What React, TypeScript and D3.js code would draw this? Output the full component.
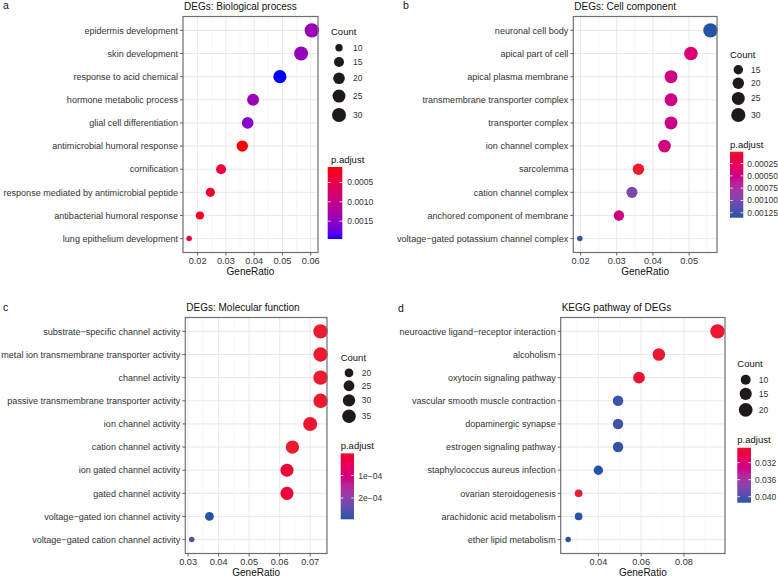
import React from "react";
import * as d3 from "d3";

// ---------------- DATA ----------------
const bpTerms = [
  "epidermis development",
  "skin development",
  "response to acid chemical",
  "hormone metabolic process",
  "glial cell differentiation",
  "antimicrobial humoral response",
  "cornification",
  "response mediated by antimicrobial peptide",
  "antibacterial humoral response",
  "lung epithelium development",
];
const bpRatio = [0.0604, 0.0566, 0.0491, 0.0396, 0.0377, 0.0358, 0.0283, 0.0245, 0.0208, 0.017];
const bpCount = [32, 30, 26, 21, 20, 19, 15, 13, 11, 9];
const bpPadj = [0.00142, 0.00145, 0.00196, 0.0014, 0.00155, 0.0001, 0.00042, 0.0003, 0.00022, 0.00045];
const bpXTicks = [0.02, 0.03, 0.04, 0.05, 0.06];
const bpCountBreaks = [10, 15, 20, 25, 30];
const bpPadjBreaks = [0.0005, 0.001, 0.0015];
const bpPadjLabels = ["0.0005", "0.0010", "0.0015"];

const ccTerms = [
  "neuronal cell body",
  "apical part of cell",
  "apical plasma membrane",
  "transmembrane transporter complex",
  "transporter complex",
  "ion channel complex",
  "sarcolemma",
  "cation channel complex",
  "anchored component of membrane",
  "voltage\u2212gated potassium channel complex",
];
const ccRatio = [0.0559, 0.0505, 0.045, 0.045, 0.045, 0.0432, 0.036, 0.0342, 0.0306, 0.0198];
const ccCount = [31, 28, 25, 25, 25, 24, 20, 19, 17, 11];
const ccPadj = [0.00135, 0.0004, 0.00052, 0.00052, 0.00052, 0.00047, 0.00001, 0.00098, 0.00048, 0.0013];
const ccXTicks = [0.02, 0.03, 0.04, 0.05];
const ccCountBreaks = [15, 20, 25, 30];
const ccPadjBreaks = [0.00025, 0.0005, 0.00075, 0.001, 0.00125];
const ccPadjLabels = ["0.00025", "0.00050", "0.00075", "0.00100", "0.00125"];

const mfTerms = [
  "substrate\u2212specific channel activity",
  "metal ion transmembrane transporter activity",
  "channel activity",
  "passive transmembrane transporter activity",
  "ion channel activity",
  "cation channel activity",
  "ion gated channel activity",
  "gated channel activity",
  "voltage\u2212gated ion channel activity",
  "voltage\u2212gated cation channel activity",
];
const mfRatio = [0.0734, 0.0734, 0.0734, 0.0734, 0.07, 0.0642, 0.0624, 0.0624, 0.037, 0.0312];
const mfCount = [39, 39, 39, 39, 37, 34, 33, 33, 20, 17];
const mfPadj = [2e-6, 3e-6, 2e-6, 3e-6, 5e-6, 1e-6, 1.5e-5, 1.5e-5, 2.95e-4, 2.62e-4];
const mfXTicks = [0.03, 0.04, 0.05, 0.06, 0.07];
const mfCountBreaks = [20, 25, 30, 35];
const mfPadjBreaks = [1e-4, 2e-4];
const mfPadjLabels = ["1e\u221204", "2e\u221204"];

const keggTerms = [
  "neuroactive ligand\u2212receptor interaction",
  "alcoholism",
  "oxytocin signaling pathway",
  "vascular smooth muscle contraction",
  "dopaminergic synapse",
  "estrogen signaling pathway",
  "staphylococcus aureus infection",
  "ovarian steroidogenesis",
  "arachidonic acid metabolism",
  "ether lipid metabolism",
];
const keggRatio = [0.0957, 0.0683, 0.059, 0.0492, 0.0492, 0.0492, 0.04, 0.0308, 0.0308, 0.0259];
const keggCount = [22, 16, 14, 11, 11, 11, 9, 7, 7, 6];
const keggPadj = [0.0287, 0.0286, 0.0288, 0.0405, 0.0404, 0.041, 0.0414, 0.0285, 0.0413, 0.0414];
const keggXTicks = [0.04, 0.06, 0.08];
const keggCountBreaks = [10, 15, 20];
const keggPadjBreaks = [0.032, 0.036, 0.04];
const keggPadjLabels = ["0.032", "0.036", "0.040"];

// ---------------- STYLE / LAYOUT ----------------
const W = 778;
const H = 577;
const FONT = "'Liberation Sans', Arial, Helvetica, sans-serif";
const D_MIN = 5.5;
const D_MAX = 14.4;

const panels = [
  {
    id: "a", letter: "a", title: "DEGs: Biological process",
    terms: bpTerms, ratio: bpRatio, count: bpCount, padj: bpPadj, xTicks: bpXTicks,
    countBreaks: bpCountBreaks, padjBreaks: bpPadjBreaks, padjLabels: bpPadjLabels,
    low: "#FF0000", high: "#0000FF", mode: "lab",
    x0: 183, x1: 318, y0: 16.5, y1: 252.5, letterX: 3, letterY: 9,
    cTitleX: 331, cTitleY: 35.3, cDotX: 339, cLabX: 353, keyPad: 5.5,
    pTitleX: 331, pTitleY: 162.5, barX: 327.7, barY: 167, barW: 14.6, barH: 72, barLabX: 347.3,
  },
  {
    id: "b", letter: "b", title: "DEGs: Cell component",
    terms: ccTerms, ratio: ccRatio, count: ccCount, padj: ccPadj, xTicks: ccXTicks,
    countBreaks: ccCountBreaks, padjBreaks: ccPadjBreaks, padjLabels: ccPadjLabels,
    low: "#EC1C2C", high: "#2454A6", mode: "hcl",
    x0: 573.3, x1: 717, y0: 16.5, y1: 252.5, letterX: 403, letterY: 9,
    cTitleX: 730, cTitleY: 57.5, cDotX: 738.3, cLabX: 751, keyPad: 3,
    pTitleX: 730, pTitleY: 147.5, barX: 730, barY: 151.7, barW: 13.3, barH: 66, barLabX: 747.3,
  },
  {
    id: "c", letter: "c", title: "DEGs: Molecular function",
    terms: mfTerms, ratio: mfRatio, count: mfCount, padj: mfPadj, xTicks: mfXTicks,
    countBreaks: mfCountBreaks, padjBreaks: mfPadjBreaks, padjLabels: mfPadjLabels,
    low: "#EC1C2C", high: "#2454A6", mode: "hcl",
    x0: 185.3, x1: 327, y0: 317.5, y1: 553.5, letterX: 3, letterY: 311,
    cTitleX: 340.7, cTitleY: 361, cDotX: 349, cLabX: 361.7, keyPad: 3,
    pTitleX: 340.7, pTitleY: 449, barX: 340.7, barY: 453.3, barW: 13.3, barH: 66, barLabX: 358.3,
  },
  {
    id: "d", letter: "d", title: "KEGG pathway of DEGs",
    terms: keggTerms, ratio: keggRatio, count: keggCount, padj: keggPadj, xTicks: keggXTicks,
    countBreaks: keggCountBreaks, padjBreaks: keggPadjBreaks, padjLabels: keggPadjLabels,
    low: "#EC1C2C", high: "#2454A6", mode: "hcl",
    x0: 560.7, x1: 725, y0: 317.5, y1: 553.5, letterX: 398, letterY: 312,
    cTitleX: 737.3, cTitleY: 367.3, cDotX: 745.7, cLabX: 758.7, keyPad: 3,
    pTitleX: 737.3, pTitleY: 442.5, barX: 737.3, barY: 447.7, barW: 13.7, barH: 55, barLabX: 755,
  },
];

function Panel({ p }: { p: any }) {
  const rMin = d3.min(p.ratio as number[])!;
  const rMax = d3.max(p.ratio as number[])!;
  const span = rMax - rMin;
  const x = d3.scaleLinear().domain([rMin - 0.05 * span, rMax + 0.05 * span]).range([p.x0, p.x1]);
  const y = d3.scalePoint<string>().domain(p.terms).range([p.y0, p.y1]).padding(0.6);

  const cMin = d3.min(p.count as number[])!;
  const cMax = d3.max(p.count as number[])!;
  const diam = (c: number) => D_MIN + (D_MAX - D_MIN) * Math.sqrt(Math.max(0, (c - cMin) / (cMax - cMin)));

  const pMin = d3.min(p.padj as number[])!;
  const pMax = d3.max(p.padj as number[])!;
  const interp = p.mode === "hcl" ? d3.interpolateHcl(p.low, p.high) : d3.interpolateLab(p.low, p.high);
  const tScale = d3.scaleLinear().domain([pMin, pMax]).range([0, 1]).clamp(true);
  const color = (v: number) => interp(tScale(v));

  const step = p.xTicks[1] - p.xTicks[0];
  const [dLo, dHi] = x.domain();
  const minor: number[] = [];
  for (let v = p.xTicks[0] - step / 2; v <= dHi + 1e-12; v += step) {
    if (v >= dLo) minor.push(v);
  }

  let keyTop = p.cTitleY + 6;
  const keys = (p.countBreaks as number[]).map((b) => {
    const d = diam(b);
    const h = d + p.keyPad;
    const cy = keyTop + h / 2;
    keyTop += h;
    return { b, d, cy };
  });

  const barScale = d3.scaleLinear().domain([pMin, pMax]).range([p.barY, p.barY + p.barH]);
  const gradId = "grad-" + p.id;
  const stops = d3.range(0, 31).map((i) => i / 30);

  return (
    <g>
      <text x={p.letterX} y={p.letterY} fontSize={10.5} fill="#111">{p.letter}</text>
      <text x={p.x0 + 1} y={p.y0 - 6.5} fontSize={10} fill="#111">{p.title}</text>

      <rect x={p.x0} y={p.y0} width={p.x1 - p.x0} height={p.y1 - p.y0} fill="#fff" />
      {minor.map((v, i) => (
        <line key={"mn" + i} x1={x(v)} x2={x(v)} y1={p.y0} y2={p.y1} stroke="#F2F2F2" strokeWidth={0.6} />
      ))}
      {(p.xTicks as number[]).map((v, i) => (
        <line key={"mj" + i} x1={x(v)} x2={x(v)} y1={p.y0} y2={p.y1} stroke="#E6E6E6" strokeWidth={0.9} />
      ))}
      {(p.terms as string[]).map((t, i) => (
        <line key={"hy" + i} x1={p.x0} x2={p.x1} y1={y(t)} y2={y(t)} stroke="#E6E6E6" strokeWidth={0.9} />
      ))}

      {(p.terms as string[]).map((t, i) => (
        <circle key={"pt" + i} cx={x(p.ratio[i])} cy={y(t)} r={diam(p.count[i]) / 2} fill={color(p.padj[i])} />
      ))}

      <rect x={p.x0} y={p.y0} width={p.x1 - p.x0} height={p.y1 - p.y0} fill="none" stroke="#707070" strokeWidth={1.2} />

      {(p.terms as string[]).map((t, i) => (
        <g key={"yl" + i}>
          <line x1={p.x0 - 3} x2={p.x0} y1={y(t)} y2={y(t)} stroke="#555" strokeWidth={0.9} />
          <text x={p.x0 - 5} y={y(t)! + 3.2} textAnchor="end" fontSize={9.05} fill="#333">{t}</text>
        </g>
      ))}
      {(p.xTicks as number[]).map((v, i) => (
        <g key={"xl" + i}>
          <line x1={x(v)} x2={x(v)} y1={p.y1} y2={p.y1 + 3} stroke="#555" strokeWidth={0.9} />
          <text x={x(v)} y={p.y1 + 11.8} textAnchor="middle" fontSize={9.2} fill="#333">{d3.format(".2f")(v)}</text>
        </g>
      ))}
      <text x={(p.x0 + p.x1) / 2} y={p.y1 + 22} textAnchor="middle" fontSize={10} fill="#111">GeneRatio</text>

      <text x={p.cTitleX} y={p.cTitleY} fontSize={9.5} fill="#111">Count</text>
      {keys.map((k, i) => (
        <g key={"ck" + i}>
          <circle cx={p.cDotX} cy={k.cy} r={k.d / 2} fill="#1f1a1a" />
          <text x={p.cLabX} y={k.cy + 3} fontSize={8.5} fill="#333">{k.b}</text>
        </g>
      ))}

      <defs>
        <linearGradient id={gradId} x1="0" y1="0" x2="0" y2="1">
          {stops.map((s, i) => (
            <stop key={i} offset={s} stopColor={interp(s)} />
          ))}
        </linearGradient>
      </defs>
      <text x={p.pTitleX} y={p.pTitleY} fontSize={9.5} fill="#111">p.adjust</text>
      <rect x={p.barX} y={p.barY} width={p.barW} height={p.barH} fill={`url(#${gradId})`} />
      {(p.padjBreaks as number[]).map((b, i) => (
        <g key={"pb" + i}>
          <line x1={p.barX} x2={p.barX + p.barW / 5} y1={barScale(b)} y2={barScale(b)} stroke="#fff" strokeWidth={0.8} />
          <line x1={p.barX + p.barW} x2={p.barX + p.barW * 0.8} y1={barScale(b)} y2={barScale(b)} stroke="#fff" strokeWidth={0.8} />
          <text x={p.barLabX} y={barScale(b) + 3} fontSize={8.5} fill="#333">{p.padjLabels[i]}</text>
        </g>
      ))}
    </g>
  );
}

export default function App() {
  return (
    <svg
      width={W}
      height={H}
      viewBox={`0 0 ${W} ${H}`}
      style={{ position: "absolute", left: 0, top: 0, background: "#fff", fontFamily: FONT }}
    >
      <rect x={0} y={0} width={W} height={H} fill="#fff" />
      {panels.map((p) => (
        <Panel key={p.id} p={p} />
      ))}
    </svg>
  );
}
